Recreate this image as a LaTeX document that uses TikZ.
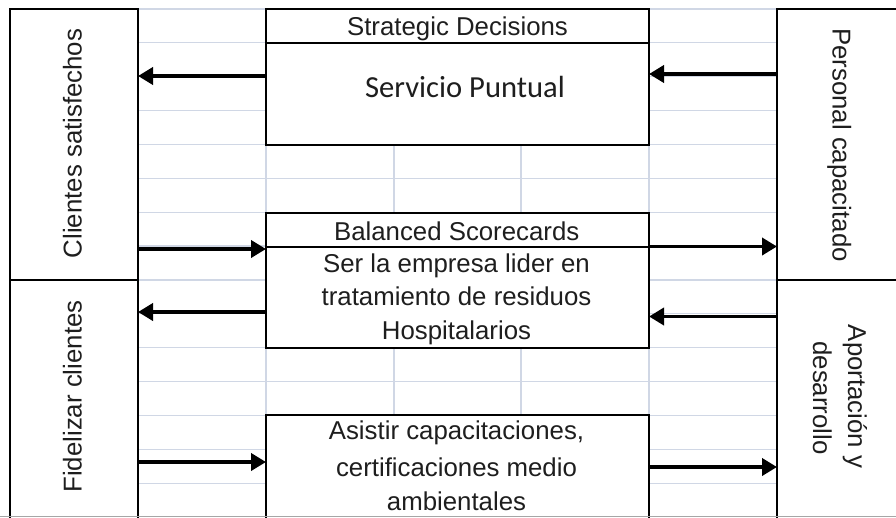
\documentclass[tikz,border=0pt]{standalone}
\usepackage{fontspec}
\setmainfont{Liberation Sans}
\newfontfamily\calibrifont{Carlito}
\usetikzlibrary{arrows.meta}
\definecolor{gridc}{HTML}{D0D7E5}
\definecolor{txt}{HTML}{1E1E1E}
\definecolor{edgec}{HTML}{A6A6A6}
\begin{document}
\begin{tikzpicture}[x=1pt,y=-1pt,
  box/.style={draw=black,line width=1.8pt,inner sep=0pt,outer sep=0pt,fill=white},
  lbl/.style={inner sep=0pt,outer sep=0pt,anchor=base,text=txt,font=\fontsize{25.8}{30}\selectfont},
  big/.style={inner sep=0pt,outer sep=0pt,anchor=base,text=txt,font=\calibrifont\fontsize{30.6}{36}\selectfont},
  arr/.style={line width=3.8pt,-{Triangle[length=15pt,width=17pt]}},
  gridline/.style={draw=gridc,line width=1.2pt}]
\useasboundingbox (0,0) rectangle (896,517);
\clip (0,0) rectangle (896,517);
% spreadsheet grid
\foreach \k in {0,...,14}{
  \draw[gridline] (138,9+\k*33.867) -- (266,9+\k*33.867);
  \draw[gridline] (649,9+\k*33.867) -- (777,9+\k*33.867);
}
\foreach \yy in {178.33,381.53}{
  \draw[gridline] (266,\yy) -- (649,\yy);
}
\foreach \xx in {266,394,521,649}{
  \draw[gridline] (\xx,144.47) -- (\xx,212.2);
  \draw[gridline] (\xx,347.67) -- (\xx,415.4);
}
% boxes
\node[box,minimum width=128pt,minimum height=271pt] (lt) at (74,144.5) {};
\node[box,minimum width=128pt,minimum height=250pt] (lb) at (74,405) {};
\node[box,minimum width=133pt,minimum height=271pt] (rt) at (843.5,144.5) {};
\node[box,minimum width=133pt,minimum height=250pt] (rb) at (843.5,405) {};
\node[box,minimum width=383pt,minimum height=102pt] (sv) at (457.5,94) {};
\node[box,minimum width=383pt,minimum height=34pt] (h1) at (457.5,26) {};
\node[box,minimum width=383pt,minimum height=101pt] (se) at (457.5,297.5) {};
\node[box,minimum width=383pt,minimum height=34pt] (h2) at (457.5,230) {};
\node[box,minimum width=383pt,minimum height=115pt] (as) at (457.5,472.5) {};
% texts
\node[lbl] (th1) at (457.5,35) {Strategic Decisions};
\node[big] (tsv) at (465,97) {Servicio Puntual};
\node[lbl] (th2) at (456.7,240) {Balanced Scorecards};
\node[lbl] (tse1) at (456.5,272) {Ser la empresa lider en};
\node[lbl] (tse2) at (456.5,305.5) {tratamiento de residuos};
\node[lbl] (tse3) at (456.5,339.5) {Hospitalarios};
\node[lbl] (tas1) at (456.5,439) {Asistir capacitaciones,};
\node[lbl] (tas2) at (456.5,476) {certificaciones medio};
\node[lbl] (tas3) at (456.5,510) {ambientales};
\node[lbl,rotate=90] (tlt) at (81.5,143.5) {Clientes satisfechos};
\node[lbl,rotate=90] (tlb) at (81.5,396.5) {Fidelizar clientes};
\node[lbl,rotate=-90] (trt) at (832.5,145) {Personal capacitado};
\node[lbl,rotate=-90] (trb1) at (848,396.5) {Aportación y};
\node[lbl,rotate=-90] (trb2) at (813,398) {desarrollo};
% arrows
\draw[arr] (sv.west |- 0,76) -- (lt.east |- 0,76);
\draw[arr] (rt.west |- 0,74) -- (sv.east |- 0,74);
\draw[arr] (lt.east |- 0,249) -- (se.west |- 0,249);
\draw[arr] (se.east |- 0,246.5) -- (rt.west |- 0,246.5);
\draw[arr] (se.west |- 0,312) -- (lb.east |- 0,312);
\draw[arr] (rb.west |- 0,316.5) -- (se.east |- 0,316.5);
\draw[arr] (lb.east |- 0,462) -- (as.west |- 0,462);
\draw[arr] (as.east |- 0,467) -- (rb.west |- 0,467);
% bottom edge of the sheet view
\draw[draw=edgec,line width=1.2pt] (0,516.2) -- (896,516.2);
\end{tikzpicture}
\end{document}
